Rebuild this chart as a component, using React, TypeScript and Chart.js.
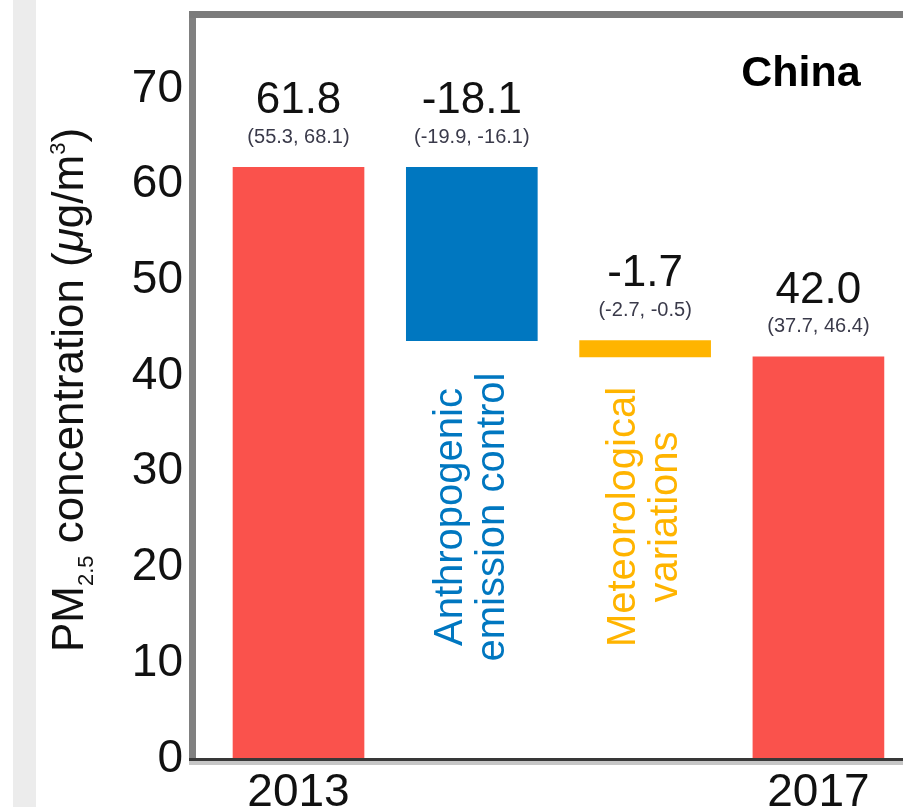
import React, { useEffect, useRef } from "react";
import { Chart, registerables } from "chart.js";

Chart.register(...registerables);

// ---- data ----
const categories = ["2013", "Anthropogenic\nemission control", "Meteorological\nvariations", "2017"];
const changes = [61.8, -18.1, -1.7, 42.0];
const ciLow = [55.3, -19.9, -2.7, 37.7];
const ciHigh = [68.1, -16.1, -0.5, 46.4];
const barKinds = ["total", "delta", "delta", "total"];
const barColors = ["#fa524c", "#0077c0", "#ffb400", "#fa524c"];
const xTickLabels = ["2013", "", "", "2017"];
const yTickValues = [0, 10, 20, 30, 40, 50, 60, 70];
const panelTitle = "China";
const yMin = 0;
const yMax = 77.4;
const xMin = -0.5915;
const xMax = 3.488;

const FONT = "'Liberation Sans', Arial, Helvetica, sans-serif";

let running = 0;
const ranges: number[][] = changes.map((v, i) => {
  if (barKinds[i] === "total") {
    running = v;
    return [0, v];
  }
  const r = [running, running + v];
  running += v;
  return r;
});

const annotate = {
  id: "annotate",
  beforeDraw(chart: any) {
    const ctx = chart.ctx;
    ctx.save();
    ctx.fillStyle = "#ffffff";
    ctx.fillRect(0, 0, chart.width, chart.height);
    ctx.fillStyle = "#ececec";
    ctx.fillRect(13, 0, 23, chart.height);
    ctx.restore();
  },
  afterDatasetsDraw(chart: any) {
    const ctx = chart.ctx;
    const area = chart.chartArea;
    const meta = chart.getDatasetMeta(0);
    ctx.save();

    // spines
    ctx.fillStyle = "#808080";
    ctx.fillRect(area.left - 7, area.top - 7, 7, area.bottom - area.top + 9);
    ctx.fillStyle = "#7b7b7b";
    ctx.fillRect(area.left - 7, area.top - 7, chart.width - area.left + 7, 7);
    ctx.fillStyle = "#383838";
    ctx.fillRect(area.left - 7, area.bottom - 1, chart.width - area.left + 7, 3);
    ctx.fillStyle = "#c6c6c6";
    ctx.fillRect(area.left - 7, area.bottom + 2, chart.width - area.left + 7, 4);

    // value + CI labels
    meta.data.forEach((bar: any, i: number) => {
      const top = Math.min(bar.y, bar.base);
      ctx.fillStyle = "#111";
      ctx.textAlign = "center";
      ctx.textBaseline = "middle";
      ctx.font = `44px ${FONT}`;
      ctx.fillText(changes[i].toFixed(1), bar.x, top - 66.5);
      ctx.fillStyle = "#3a3a4a";
      ctx.font = `20px ${FONT}`;
      ctx.fillText(`(${ciLow[i].toFixed(1)}, ${ciHigh[i].toFixed(1)})`, bar.x, top - 30);

      if (barKinds[i] === "delta") {
        const lines = categories[i].split("\n");
        ctx.fillStyle = barColors[i];
        ctx.font = `40px ${FONT}`;
        ctx.textBaseline = "alphabetic";
        lines.forEach((line: string, k: number) => {
          ctx.save();
          ctx.translate(bar.x - 10 + k * 42, 517);
          ctx.rotate(-Math.PI / 2);
          ctx.fillText(line, 0, 0);
          ctx.restore();
        });
      }
    });

    // panel title
    ctx.fillStyle = "#000";
    ctx.textAlign = "center";
    ctx.textBaseline = "alphabetic";
    ctx.font = `bold 43px ${FONT}`;
    ctx.fillText(panelTitle, area.left + 605, area.top + 68);

    // y axis title with sub/superscripts
    const segs = [
      { t: "PM", f: `44px ${FONT}`, dy: 0 },
      { t: "2.5", f: `22px ${FONT}`, dy: 10 },
      { t: " concentration (", f: `44px ${FONT}`, dy: 0 },
      { t: "\u03bc", f: `italic 44px ${FONT}`, dy: 0 },
      { t: "g/m", f: `44px ${FONT}`, dy: 0 },
      { t: "3", f: `22px ${FONT}`, dy: -18 },
      { t: ")", f: `44px ${FONT}`, dy: 0 },
    ];
    let total = 0;
    segs.forEach((s) => {
      ctx.font = s.f;
      total += ctx.measureText(s.t).width;
    });
    ctx.save();
    ctx.translate(83, 390);
    ctx.rotate(-Math.PI / 2);
    ctx.textAlign = "left";
    ctx.textBaseline = "alphabetic";
    ctx.fillStyle = "#111";
    let x = -total / 2;
    segs.forEach((s) => {
      ctx.font = s.f;
      ctx.fillText(s.t, x, s.dy);
      x += ctx.measureText(s.t).width;
    });
    ctx.restore();

    ctx.restore();
  },
};

export default function App() {
  const ref = useRef<HTMLCanvasElement | null>(null);
  useEffect(() => {
    if (!ref.current) return;
    const chart = new Chart(ref.current, {
      type: "bar",
      data: {
        datasets: [
          {
            data: ranges.map((r, i) => ({ x: i, y: r })) as any,
            backgroundColor: barColors,
            borderWidth: 0,
            barThickness: 131,
            grouped: false,
          } as any,
        ],
      },
      options: {
        animation: false,
        responsive: false,
        devicePixelRatio: 1,
        layout: { padding: { top: 18, left: 0, right: 0, bottom: 0 } },
        plugins: {
          legend: { display: false },
          tooltip: { enabled: false },
          title: { display: false },
        },
        scales: {
          x: {
            type: "linear",
            min: xMin,
            max: xMax,
            offset: false,
            grid: { display: false },
            border: { display: false },
            afterBuildTicks: (s: any) => {
              s.ticks = xTickLabels
                .map((l, i) => ({ value: i, l }))
                .filter((t) => t.l !== "")
                .map((t) => ({ value: t.value }));
            },
            ticks: {
              callback: (v: any) => xTickLabels[v] ?? "",
              font: { family: FONT, size: 46, lineHeight: 1 },
              color: "#111",
              padding: 3,
              maxRotation: 0,
              autoSkip: false,
            },
            afterFit: (s: any) => {
              s.height = 48;
              s.paddingLeft = 0;
              s.paddingRight = 0;
            },
          } as any,
          y: {
            min: yMin,
            max: yMax,
            grid: { display: false },
            border: { display: false },
            afterBuildTicks: (s: any) => {
              s.ticks = yTickValues.map((v) => ({ value: v }));
            },
            ticks: {
              font: { family: FONT, size: 46 },
              color: "#111",
              padding: 5,
            },
            afterFit: (s: any) => {
              s.width = 196;
              s.paddingTop = 0;
              s.paddingBottom = 0;
            },
          } as any,
        },
      },
      plugins: [annotate],
    });
    return () => chart.destroy();
  }, []);
  return (
    <div style={{ position: "fixed", left: 0, top: 0, width: 903, height: 807 }}>
      <canvas ref={ref} width={903} height={807} style={{ display: "block" }} />
    </div>
  );
}
